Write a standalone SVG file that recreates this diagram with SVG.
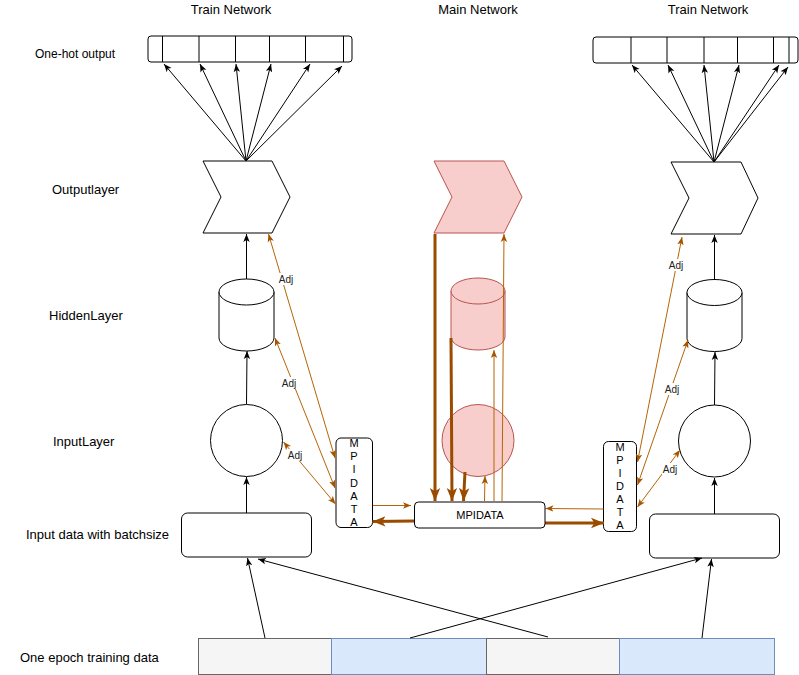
<svg xmlns="http://www.w3.org/2000/svg" width="799" height="675" viewBox="0 0 799 675">
<defs>
<style>
text{font-family:"Liberation Sans",Arial,sans-serif;fill:#000}
.lbl{font-size:13px;dominant-baseline:central}
.small{font-size:12px;dominant-baseline:central}
.mid{text-anchor:middle}
.mpi{font-size:11px;text-anchor:middle;dominant-baseline:central}
.adj{font-size:10px;text-anchor:middle;dominant-baseline:central;fill:#222}
.shape{fill:#fff;stroke:#000;stroke-width:1}
.pink{fill:#f8cecc;stroke:#b85450;stroke-width:1}
.div{stroke:#000;stroke-width:1}
.blk{stroke:#000;stroke-width:1;fill:none;marker-end:url(#ab)}
.thin{stroke:#b46504;stroke-width:1;fill:none;marker-end:url(#ao)}
.dbl{marker-start:url(#ao)}
.thick{stroke:#994c00;stroke-width:3;fill:none;marker-end:url(#at)}
.gray{fill:#f5f5f5;stroke:#666;stroke-width:1}
.blue{fill:#dae8fc;stroke:#6c8ebf;stroke-width:1}
.bg{fill:#fff}
</style>
<marker id="ab" viewBox="0 0 10 10" refX="10" refY="5" markerWidth="8" markerHeight="8" markerUnits="userSpaceOnUse" orient="auto-start-reverse"><path d="M0,1 L10,5 L0,9 L2.5,5 Z" fill="#000"/></marker>
<marker id="ao" viewBox="0 0 10 10" refX="10" refY="5" markerWidth="8" markerHeight="8" markerUnits="userSpaceOnUse" orient="auto-start-reverse"><path d="M0,1 L10,5 L0,9 L2.5,5 Z" fill="#a65400"/></marker>
<marker id="at" viewBox="0 0 10 10" refX="10" refY="5" markerWidth="13" markerHeight="13" markerUnits="userSpaceOnUse" orient="auto-start-reverse"><path d="M0,1 L10,5 L0,9 L2.5,5 Z" fill="#994c00"/></marker>
</defs>

<g id="titles">
<text class="lbl mid" x="231" y="9">Train Network</text>
<text class="lbl mid" x="478" y="9">Main Network</text>
<text class="lbl mid" x="708" y="9">Train Network</text>
</g>

<g id="row-labels">
<text class="small" x="35" y="54">One-hot output</text>
<text class="lbl" x="52" y="189">Outputlayer</text>
<text class="lbl" x="49" y="315">HiddenLayer</text>
<text class="lbl" x="53" y="441">InputLayer</text>
<text class="lbl" x="26" y="534">Input data with batchsize</text>
<text class="lbl" x="20" y="657">One epoch training data</text>
</g>

<g id="onehot-left">
<rect class="shape" x="148" y="36" width="204" height="26" rx="3"/>
<path class="div" d="M162.5,36V62M199,36V62M235.5,36V62M269.5,36V62M305.5,36V62M343.5,36V62"/>
</g>
<g id="onehot-right">
<rect class="shape" x="593" y="37" width="205" height="26" rx="3"/>
<path class="div" d="M631,37V63M667,37V63M704,37V63M737.5,37V63M773.5,37V63M789,37V63"/>
</g>

<g id="output-left"><polygon class="shape" points="203,161 272,161 290,197 272,233 203,233 221,197"/></g>
<g id="output-main"><polygon class="pink" points="434,161 504,161 522,197 504,233 434,233 452,197"/></g>
<g id="output-right"><polygon class="shape" points="671,162 741,162 758,198 741,234 671,234 689,198"/></g>

<g id="hidden-left">
<path class="shape" d="M219,292 A27.5,13 0 0 1 274,292 L274,338 A27.5,13 0 0 1 219,338 Z"/>
<path class="shape" d="M219,292 A27.5,13 0 0 0 274,292" fill="none"/>
</g>
<g id="hidden-main">
<path class="pink" d="M451,291 A27,13 0 0 1 505,291 L505,337 A27,13 0 0 1 451,337 Z"/>
<path class="pink" d="M451,291 A27,13 0 0 0 505,291" fill="none"/>
</g>
<g id="hidden-right">
<path class="shape" d="M687,292.5 A27.5,13 0 0 1 742,292.5 L742,338.5 A27.5,13 0 0 1 687,338.5 Z"/>
<path class="shape" d="M687,292.5 A27.5,13 0 0 0 742,292.5" fill="none"/>
</g>

<g id="input-left"><circle class="shape" cx="246.5" cy="440.5" r="36"/></g>
<g id="input-main"><circle class="pink" cx="478" cy="440.5" r="36"/></g>
<g id="input-right"><circle class="shape" cx="714.5" cy="441" r="36"/></g>

<g id="batch-left"><rect class="shape" x="181.5" y="513" width="130" height="44" rx="6"/></g>
<g id="batch-right"><rect class="shape" x="649.5" y="514" width="130" height="44" rx="6"/></g>

<g id="mpi-left">
<rect class="shape" x="336" y="438" width="36.5" height="89.5" rx="5"/>
<text class="mpi" x="354" y="443">M</text>
<text class="mpi" x="354" y="456">P</text>
<text class="mpi" x="354" y="469">I</text>
<text class="mpi" x="354" y="482.5">D</text>
<text class="mpi" x="354" y="495.5">A</text>
<text class="mpi" x="354" y="508.5">T</text>
<text class="mpi" x="354" y="521.5">A</text>
</g>
<g id="mpi-right">
<rect class="shape" x="603.5" y="441.5" width="33" height="90" rx="5"/>
<text class="mpi" x="620" y="447">M</text>
<text class="mpi" x="620" y="460">P</text>
<text class="mpi" x="620" y="473">I</text>
<text class="mpi" x="620" y="486">D</text>
<text class="mpi" x="620" y="499">A</text>
<text class="mpi" x="620" y="512">T</text>
<text class="mpi" x="620" y="525">A</text>
</g>

<g id="data-segments">
<rect class="gray" x="198.5" y="638.5" width="133" height="36"/>
<rect class="blue" x="331.5" y="638.5" width="155" height="36"/>
<rect class="gray" x="486.5" y="638.5" width="133" height="36"/>
<rect class="blue" x="619.5" y="638.5" width="155" height="36"/>
</g>

<g id="connectors">
<path class="blk" d="M246,161L164,64"/>
<path class="blk" d="M246,161L200,64"/>
<path class="blk" d="M246,161L236,64"/>
<path class="blk" d="M246,161L271,64"/>
<path class="blk" d="M246,161L310,64"/>
<path class="blk" d="M246,161L342,66"/>
<path class="blk" d="M714,162L632,65"/>
<path class="blk" d="M714,162L668,65"/>
<path class="blk" d="M714,162L704,65"/>
<path class="blk" d="M714,162L739,65"/>
<path class="blk" d="M714,162L779,65"/>
<path class="blk" d="M714,162L788,67"/>

<path class="blk" d="M246.5,513L246.5,477"/>
<path class="blk" d="M246.5,404L247,351"/>
<path class="blk" d="M246.5,279L246.5,234"/>
<path class="blk" d="M714.5,514L714.5,478"/>
<path class="blk" d="M714.5,405L715,352"/>
<path class="blk" d="M714.5,280L714.5,235"/>

<path class="blk" d="M265,638L247.5,558"/>
<path class="blk" d="M548,637L258,559"/>
<path class="blk" d="M410,638L702,558"/>
<path class="blk" d="M702,638L711.5,559"/>

<path class="thick" d="M435,234L435,501"/>
<path class="thick" d="M451,338L452,501"/>
<path class="thick" d="M465,472L463.5,501"/>
<path class="thin" d="M484.5,501L485,476"/>
<path class="thin" d="M494,501L494,350"/>
<path class="thin" d="M502,501L504,234"/>

<path class="thin" d="M373,505.5L411,505.5"/>
<path class="thick" d="M414,521L372.5,521.5"/>
<path class="thick" d="M545,523L604,523"/>
<path class="thin" d="M603.5,509L545.5,508.5"/>

<path class="thin dbl" d="M335,458L268.5,234"/>
<path class="thin dbl" d="M335,488L275,338"/>
<path class="thin dbl" d="M335.5,504L283.5,442"/>
<path class="thin dbl" d="M637.5,462L682,237"/>
<path class="thin dbl" d="M637.5,485L688,340"/>
<path class="thin dbl" d="M637.5,507L680,450"/>

<rect class="bg" x="278" y="273" width="16" height="12"/>
<text class="adj" x="286" y="279">Adj</text>
<rect class="bg" x="281" y="377" width="16" height="12"/>
<text class="adj" x="289" y="383">Adj</text>
<rect class="bg" x="287" y="449" width="16" height="12"/>
<text class="adj" x="295" y="455">Adj</text>
<rect class="bg" x="668" y="259" width="16" height="12"/>
<text class="adj" x="676" y="265">Adj</text>
<rect class="bg" x="664" y="383" width="16" height="12"/>
<text class="adj" x="672" y="389">Adj</text>
<rect class="bg" x="662" y="463" width="16" height="12"/>
<text class="adj" x="670" y="469">Adj</text>
</g>

<g id="mpidata-center">
<rect class="shape" x="414.5" y="502" width="130.5" height="26" rx="4"/>
<text class="mpi" x="480" y="515">MPIDATA</text>
</g>
</svg>
